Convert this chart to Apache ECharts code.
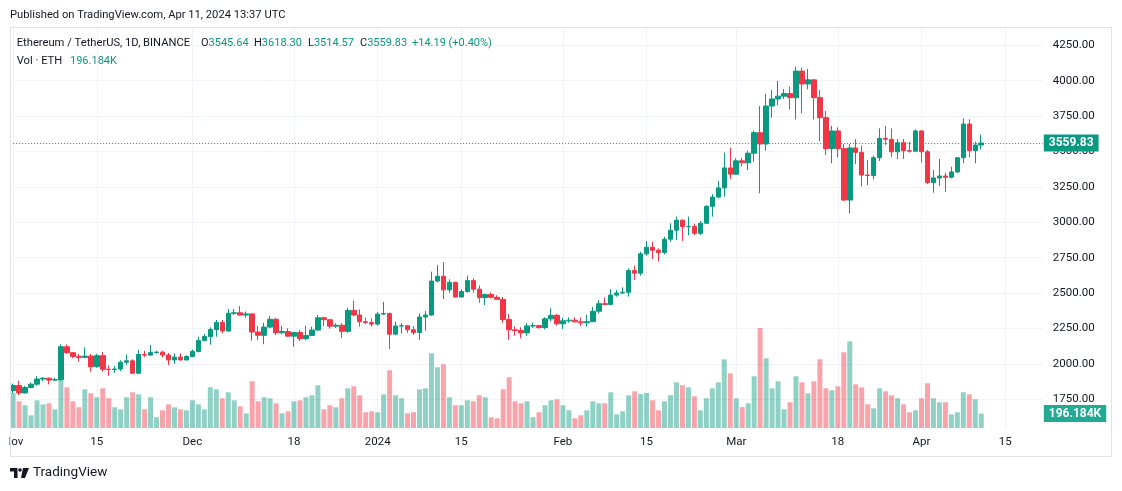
<!DOCTYPE html>
<html><head><meta charset="utf-8">
<script src="https://cdn.jsdelivr.net/npm/echarts@6/dist/echarts.min.js"></script>
<style>html,body{margin:0;padding:0;background:#fff}#c{width:1122px;height:491px}</style>
</head><body><div id="c"></div>
<script>
const dates = [
"2023-11-01","2023-11-02","2023-11-03","2023-11-04","2023-11-05","2023-11-06","2023-11-07","2023-11-08","2023-11-09","2023-11-10",
"2023-11-11","2023-11-12","2023-11-13","2023-11-14","2023-11-15","2023-11-16","2023-11-17","2023-11-18","2023-11-19","2023-11-20",
"2023-11-21","2023-11-22","2023-11-23","2023-11-24","2023-11-25","2023-11-26","2023-11-27","2023-11-28","2023-11-29","2023-11-30",
"2023-12-01","2023-12-02","2023-12-03","2023-12-04","2023-12-05","2023-12-06","2023-12-07","2023-12-08","2023-12-09","2023-12-10",
"2023-12-11","2023-12-12","2023-12-13","2023-12-14","2023-12-15","2023-12-16","2023-12-17","2023-12-18","2023-12-19","2023-12-20",
"2023-12-21","2023-12-22","2023-12-23","2023-12-24","2023-12-25","2023-12-26","2023-12-27","2023-12-28","2023-12-29","2023-12-30","2023-12-31",
"2024-01-01","2024-01-02","2024-01-03","2024-01-04","2024-01-05","2024-01-06","2024-01-07","2024-01-08","2024-01-09","2024-01-10",
"2024-01-11","2024-01-12","2024-01-13","2024-01-14","2024-01-15","2024-01-16","2024-01-17","2024-01-18","2024-01-19","2024-01-20",
"2024-01-21","2024-01-22","2024-01-23","2024-01-24","2024-01-25","2024-01-26","2024-01-27","2024-01-28","2024-01-29","2024-01-30","2024-01-31",
"2024-02-01","2024-02-02","2024-02-03","2024-02-04","2024-02-05","2024-02-06","2024-02-07","2024-02-08","2024-02-09","2024-02-10",
"2024-02-11","2024-02-12","2024-02-13","2024-02-14","2024-02-15","2024-02-16","2024-02-17","2024-02-18","2024-02-19","2024-02-20",
"2024-02-21","2024-02-22","2024-02-23","2024-02-24","2024-02-25","2024-02-26","2024-02-27","2024-02-28","2024-02-29",
"2024-03-01","2024-03-02","2024-03-03","2024-03-04","2024-03-05","2024-03-06","2024-03-07","2024-03-08","2024-03-09","2024-03-10",
"2024-03-11","2024-03-12","2024-03-13","2024-03-14","2024-03-15","2024-03-16","2024-03-17","2024-03-18","2024-03-19","2024-03-20",
"2024-03-21","2024-03-22","2024-03-23","2024-03-24","2024-03-25","2024-03-26","2024-03-27","2024-03-28","2024-03-29","2024-03-30","2024-03-31",
"2024-04-01","2024-04-02","2024-04-03","2024-04-04","2024-04-05","2024-04-06","2024-04-07","2024-04-08","2024-04-09","2024-04-10","2024-04-11"
];
const open = [
1811,1847,1795,1833,1857,1893,1899,1886,1888,2121,2079,2053,2046,2055,1980,2058,1962,1960,1964,2012,2022,1934,2066,2062,2080,2083,2063,2028,2048,2028,
2052,2088,2166,2193,2243,2293,2232,2358,2361,2345,2353,2225,2202,2260,2315,2220,2229,2196,2222,2178,2201,2239,2326,2312,2266,2273,2230,2378,2345,2298,2292,
2281,2352,2356,2210,2268,2269,2241,2222,2331,2345,2585,2619,2523,2576,2472,2511,2588,2528,2468,2490,2470,2456,2313,2241,2236,2219,2268,2270,2257,2318,2343,
2283,2304,2309,2297,2290,2298,2372,2425,2420,2486,2501,2506,2659,2641,2777,2824,2803,2786,2881,2944,3015,2969,2971,2922,2993,3113,3178,3243,3384,
3340,3434,3420,3488,3633,3553,3821,3871,3891,3909,3880,4068,3977,4006,3880,3739,3520,3645,3520,3157,3525,3494,3334,3330,3456,3593,3586,3498,3562,3506,3502,
3645,3498,3280,3313,3327,3318,3355,3456,3694,3506,3545.64
];
const high = [
1860,1880,1845,1868,1914,1907,1904,1902,2138,2138,2084,2070,2116,2070,2070,2084,1990,1985,2025,2067,2033,2098,2093,2133,2093,2093,2077,2075,2075,2061,
2101,2192,2211,2258,2310,2310,2388,2388,2408,2370,2356,2268,2291,2340,2326,2268,2251,2226,2240,2268,2263,2345,2333,2315,2287,2287,2397,2446,2385,2326,2322,
2368,2439,2362,2298,2287,2275,2268,2357,2374,2651,2698,2719,2597,2580,2527,2623,2604,2554,2497,2504,2485,2472,2352,2265,2258,2289,2291,2277,2329,2393,2352,
2327,2329,2329,2329,2346,2403,2451,2468,2529,2522,2541,2675,2694,2792,2868,2863,2816,2898,2993,3040,3020,3040,2990,3009,3120,3198,3292,3492,3527,
3452,3456,3506,3647,3821,3908,3934,3998,3941,3958,4099,4092,4083,4010,3934,3786,3680,3670,3551,3551,3588,3541,3440,3470,3663,3680,3663,3588,3588,3569,3656,
3652,3511,3369,3447,3350,3393,3459,3734,3727,3569,3618.30
];
const low = [
1795,1780,1790,1828,1846,1878,1855,1880,1880,2070,2040,2016,2040,1945,1973,1945,1915,1937,1950,1995,1932,1930,2049,2058,2073,2045,1992,2000,2024,2024,
2047,2082,2159,2136,2192,2216,2227,2345,2341,2326,2164,2168,2139,2251,2204,2211,2193,2122,2161,2169,2197,2235,2268,2249,2254,2185,2220,2337,2263,2280,2263,
2270,2345,2105,2203,2216,2220,2204,2169,2234,2340,2576,2458,2503,2472,2470,2503,2503,2432,2416,2462,2453,2291,2169,2199,2181,2199,2256,2249,2244,2302,2270,
2247,2291,2293,2268,2263,2295,2357,2416,2418,2475,2492,2475,2593,2623,2764,2741,2722,2774,2863,2875,2868,2910,2910,2910,2989,3040,3169,3181,3306,
3334,3397,3369,3428,3205,3506,3739,3828,3871,3798,3727,3770,3939,3727,3574,3475,3417,3459,3152,3063,3411,3252,3263,3304,3433,3546,3463,3447,3447,3492,3502,
3421,3270,3209,3256,3216,3310,3350,3417,3459,3417,3514.57
];
const close = [
1847,1795,1833,1857,1893,1899,1886,1888,2121,2079,2053,2046,2055,1980,2058,1962,1960,1964,2012,2022,1934,2066,2062,2080,2083,2063,2028,2048,2028,2052,
2088,2166,2193,2243,2293,2232,2358,2361,2345,2353,2225,2202,2260,2315,2220,2229,2196,2222,2178,2201,2239,2326,2312,2266,2273,2230,2378,2345,2298,2292,2281,
2352,2356,2210,2268,2269,2241,2222,2331,2345,2585,2619,2523,2576,2472,2511,2588,2528,2468,2490,2470,2456,2313,2241,2236,2219,2268,2270,2257,2318,2343,2283,
2304,2309,2297,2290,2298,2372,2425,2420,2486,2501,2506,2659,2641,2777,2824,2803,2786,2881,2944,3015,2969,2971,2922,2993,3113,3178,3243,3384,3340,
3434,3420,3488,3633,3553,3821,3871,3891,3909,3880,4068,3977,4006,3880,3739,3520,3645,3520,3157,3525,3494,3334,3330,3456,3593,3586,3498,3562,3506,3502,3645,
3498,3280,3313,3327,3318,3355,3456,3694,3506,3545.64,3559.83
];
// volume in thousands of ETH
const volume = [
476,363,309,173,377,322,336,254,649,553,363,282,526,472,418,540,404,282,254,418,486,458,254,418,146,241,322,282,254,241,
377,322,254,553,526,404,486,377,295,200,635,363,418,404,336,200,227,363,377,418,445,581,254,309,282,404,540,567,445,214,227,
214,458,785,445,404,200,214,526,540,1016,826,866,418,309,309,377,363,445,418,146,132,526,690,363,336,363,146,214,309,377,390,
309,241,132,173,241,363,336,336,486,186,227,445,499,462,476,377,241,363,445,622,581,553,431,241,404,540,622,934,744,
404,284,336,703,1360,948,540,635,254,350,703,622,472,635,934,540,513,567,1030,1179,594,553,322,268,540,499,445,404,322,214,241,
404,608,404,350,350,186,214,486,458,390,196.184
];
const xTickDates = ["2023-11-01","2023-11-15","2023-12-01","2023-12-18","2024-01-01","2024-01-15","2024-02-01","2024-02-15","2024-03-01","2024-03-18","2024-04-01","2024-04-15"];
const xTickLabels = ["Nov","15","Dec","18","2024","15","Feb","15","Mar","18","Apr","15"];
const priceTicks = [1750,2000,2250,2500,2750,3000,3250,3500,3750,4000,4250];

const UP = '#089981', DOWN = '#F23645';
const VUP = 'rgba(8,153,129,0.45)', VDOWN = 'rgba(242,54,69,0.45)';
const t0 = Date.parse(dates[0] + 'T00:00:00Z');
const dayIdx = d => Math.round((Date.parse(d + 'T00:00:00Z') - t0) / 86400000);
const candleData = dates.map((d, i) => [dayIdx(d), open[i], close[i], low[i], high[i]]);
const volData = dates.map((d, i) => ({ value: [dayIdx(d), volume[i]], itemStyle: { color: close[i] >= open[i] ? VUP : VDOWN } }));
const xTickIdx = xTickDates.map(dayIdx);
const labelOf = {}; xTickIdx.forEach((v, i) => labelOf[v] = xTickLabels[i]);
const last = dates.length - 1;
const FONT = 'Roboto';
const TXT = '#131722';

const chart = echarts.init(document.getElementById('c'), null, { renderer: 'canvas' });
function t(x, y, text, color, size) {
  return { type: 'text', x: x, y: y, z: 100, style: { text: text, fill: color || TXT, font: (size || 11) + 'px ' + FONT, textVerticalAlign: 'middle' } };
}
function rt(x, y, letter, value) {
  return { type: 'text', x: x, y: y, z: 100, style: {
    text: letter + '{g|' + value + '}', fill: TXT, font: '11px ' + FONT, textVerticalAlign: 'middle',
    rich: { g: { fill: UP, font: '11px ' + FONT } } } };
}
const chg = close[last] - open[last];
chart.setOption({
  animation: false,
  backgroundColor: '#ffffff',
  grid: { left: 9, right: 79.2, top: 27, bottom: 63 },
  xAxis: {
    type: 'value', min: 0, max: 172.3,
    axisLine: { show: false },
    axisTick: { show: false, customValues: xTickIdx },
    axisLabel: { customValues: xTickIdx, formatter: v => labelOf[v] || '', color: TXT, fontSize: 11.5, fontFamily: FONT, margin: 8 },
    splitLine: { show: true, lineStyle: { color: '#f0f3fa', width: 1 } }
  },
  yAxis: [{
    type: 'value', position: 'right', min: 1547.3, max: 4379.2,
    axisLine: { show: false },
    axisTick: { show: false, customValues: priceTicks },
    axisLabel: { customValues: priceTicks, formatter: v => v.toFixed(2), color: TXT, fontSize: 11.5, fontFamily: FONT, margin: 10 },
    splitLine: { show: true, lineStyle: { color: '#f0f3fa', width: 1 } }
  }, {
    type: 'value', min: 0, max: 5454, show: false, splitLine: { show: false }
  }],
  series: [{
    type: 'bar', name: 'Vol', xAxisIndex: 0, yAxisIndex: 1, barWidth: 5, z: 1,
    data: volData,
    markLine: {
      silent: true, symbol: 'none',
      lineStyle: { color: 'rgba(0,0,0,0)', width: 0.01, type: 'solid' },
      label: { show: true, position: 'end', distance: 1, formatter: volume[last].toFixed(3) + 'K', backgroundColor: '#22ab94', color: '#fff', fontWeight: 'bold', fontSize: 12, fontFamily: FONT, padding: [3, 5, 2, 5] },
      data: [{ yAxis: volume[last] }]
    }
  }, {
    type: 'candlestick', name: 'ETHUSDT', xAxisIndex: 0, yAxisIndex: 0, barWidth: 5, z: 2,
    encode: { x: 0, y: [1, 2, 3, 4] },
    data: candleData,
    itemStyle: { color: UP, color0: DOWN, borderColor: UP, borderColor0: DOWN, borderWidth: 1 },
    markLine: {
      silent: true, symbol: 'none',
      lineStyle: { color: UP, type: [1, 2], width: 1 },
      label: { position: 'end', distance: 1, formatter: close[last].toFixed(2), backgroundColor: UP, color: '#fff', fontWeight: 'bold', fontSize: 12, fontFamily: FONT, padding: [3, 5, 2, 5] },
      data: [{ yAxis: close[last] }]
    }
  }],
  graphic: [
    { type: 'rect', z: 90, shape: { x: 0, y: 430, width: 9.5, height: 24 }, style: { fill: '#fff' } },
    { type: 'rect', z: 95, shape: { x: 10.5, y: 27.5, width: 1101, height: 429 }, style: { fill: 'none', stroke: '#e0e3eb', lineWidth: 1 } },
    t(10, 15, 'Published on TradingView.com, Apr 11, 2024 13:37 UTC', TXT, 11.2),
    t(16.7, 43, 'Ethereum / TetherUS, 1D, BINANCE', TXT, 11.2),
    rt(201, 43, 'O', open[last].toFixed(2)),
    rt(254, 43, 'H', high[last].toFixed(2)),
    rt(308, 43, 'L', low[last].toFixed(2)),
    rt(360, 43, 'C', close[last].toFixed(2)),
    t(412, 43, '+' + chg.toFixed(2) + ' (+' + (chg / open[last] * 100).toFixed(2) + '%)', UP),
    t(16.7, 61, 'Vol · ETH', TXT, 11.2), t(70, 61, volume[last].toFixed(3) + 'K', UP),
    { type: 'polygon', z: 100, shape: { points: [[10, 468], [17.5, 468], [17.5, 478], [14, 478], [14, 471.5], [10, 471.5]] }, style: { fill: '#131722' } },
    { type: 'circle', z: 100, shape: { cx: 20, cy: 470, r: 1.8 }, style: { fill: '#131722' } },
    { type: 'polygon', z: 100, shape: { points: [[23, 468], [29, 468], [25, 478], [21, 478]] }, style: { fill: '#131722' } },
    t(33, 473, 'TradingView', TXT, 13.5)
  ]
});
</script></body></html>
